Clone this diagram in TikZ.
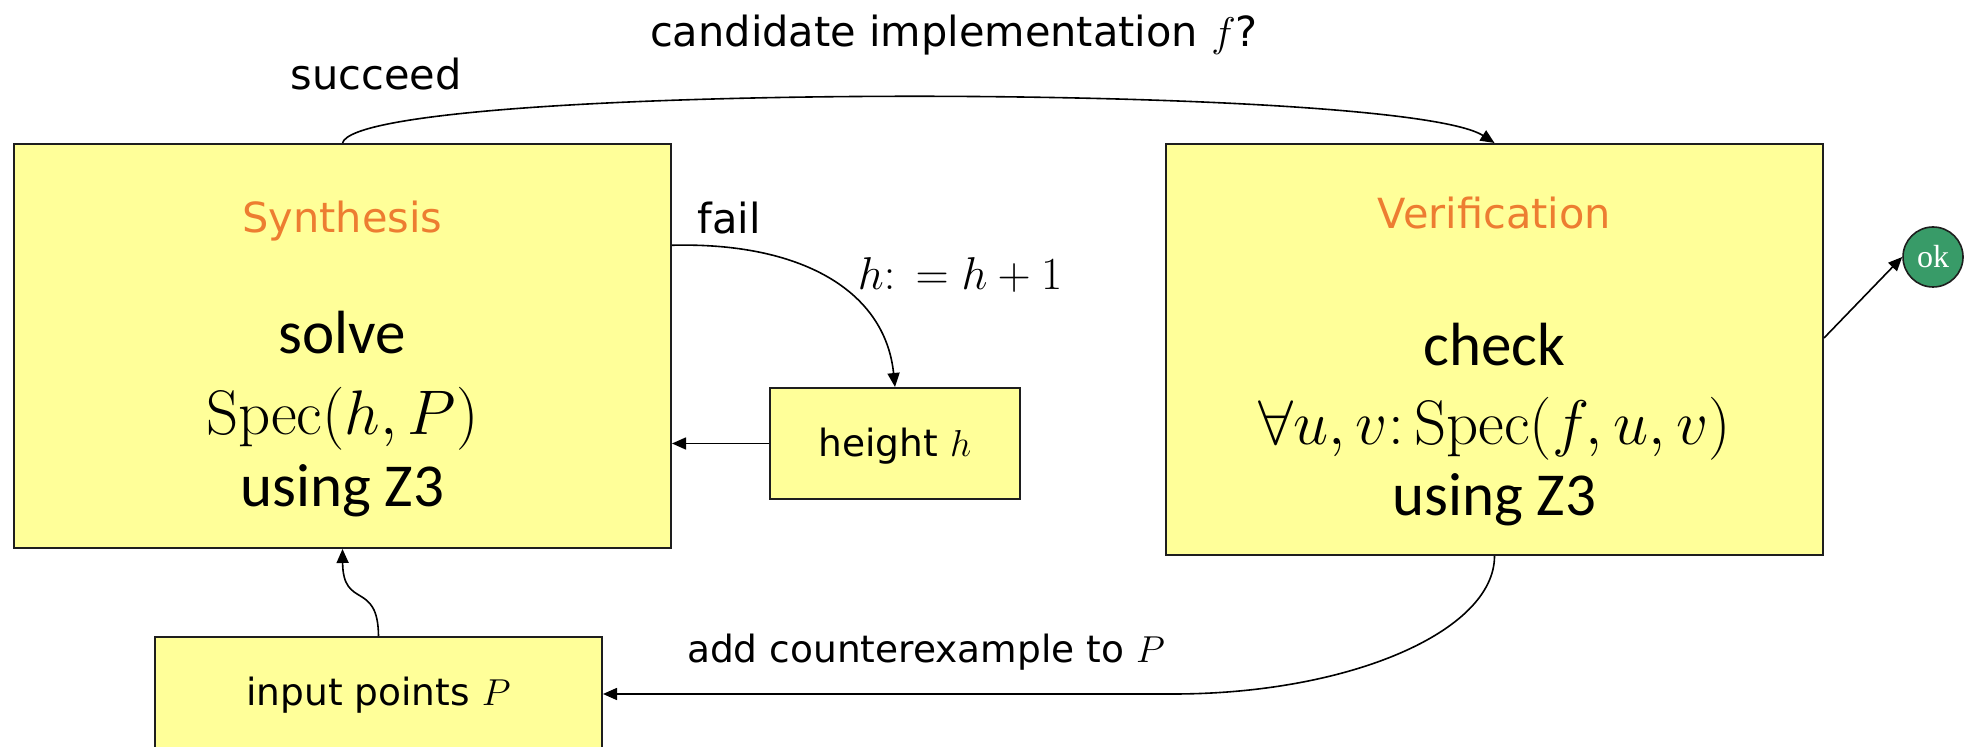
\RequirePackage{fix-cm}
\documentclass[tikz,border=0pt]{standalone}
\usepackage{fontspec}
\usetikzlibrary{arrows.meta}
\newfontfamily\labfont{DejaVu Sans}
\newfontfamily\bodyfont{Carlito}
\newfontfamily\okfont{Liberation Serif}
\definecolor{boxyellow}{RGB}{255,255,153}
\definecolor{titleorange}{RGB}{237,125,49}
\definecolor{okgreen}{RGB}{56,155,104}
\definecolor{edge}{RGB}{30,30,30}

\begin{document}
\begin{tikzpicture}[x=0.5pt,y=-0.5pt,
  box/.style={draw=edge,line width=1pt,fill=boxyellow,inner sep=0pt},
  conn/.style={draw=black,line width=0.8pt,-{Triangle[length=7pt,width=6pt]}},
  txt/.style={inner sep=0pt,anchor=base},
  biglab/.style={txt,font=\labfont\fontsize{20.75}{25}\selectfont},
  smalllab/.style={txt,font=\labfont\fontsize{18.75}{22}\selectfont},
  title/.style={biglab,text=titleorange},
  body/.style={txt,font=\bodyfont\fontsize{30.5}{36}\selectfont},
]
\useasboundingbox (0,0) rectangle (1964,747);
\clip (0,0) rectangle (1964,747);

% boxes
\node[box,minimum width=328.5pt,minimum height=202pt] (synth) at (342.5,346) {};
\node[box,minimum width=328.5pt,minimum height=205.5pt] (ver) at (1494.5,349.5) {};
\node[box,minimum width=125pt,minimum height=55.5pt] (hbox) at (895,443.5) {};
\node[box,minimum width=223.5pt,minimum height=57pt] (inp) at (378.5,694) {};
\node[circle,draw=edge,line width=0.8pt,fill=okgreen,minimum size=30pt,inner sep=0pt,
      text=white,font=\okfont\fontsize{16}{19}\selectfont] (ok) at (1933,257) {ok};

% box contents
\node[title] (synthT) at (342.5,233) {Synthesis};
\node[body] (synthA) at (342.5,354) {solve};
\node[body] (synthB) at (342.5,435) {\fontsize{31.5}{36}\selectfont$\mathrm{Spec}(h,P)$};
\node[body] (synthC) at (342.5,507) {using Z3};
\node[title] (verT) at (1494.5,229) {Verification};
\node[body] (verA) at (1494.5,366) {check};
\node[body] (verB) at (1494.5,445) {\fontsize{31.5}{36}\selectfont$\forall u,v\colon\mathrm{Spec}(f,u,v)$};
\node[body] (verC) at (1494.5,516) {using Z3};
\node[smalllab] (hT) at (895,457) {height $h$};
\node[smalllab] (inpT) at (378.5,705) {input points $P$};

% edge labels
\node[biglab] (succ) at (376,90) {succeed};
\node[biglab] (cand) at (954,47) {candidate implementation $f$?};
\node[biglab] (fail) at (729,234) {fail};
\node[biglab,font=\labfont\fontsize{23}{27}\selectfont] (inc) at (960,290) {$h{:}\,=h+1$};
\node[smalllab] (addcx) at (926,663) {add counterexample to $P$};

% connectors
\draw[conn] (synth.north) .. controls (360,82) and (1400,82) .. (ver.north);
\draw[conn] (synth.17.6) .. controls (800,242) and (885,290) .. (hbox.north);
\draw[conn] (hbox.west) -- (hbox.west -| synth.east);
\draw[conn] (inp.north) .. controls (378,580) and (343,610) .. (synth.south);
\coordinate (cxbend) at (1173,694);
\draw[conn] (ver.south) .. controls (1494.5,631) and (1350,694) .. (cxbend) -- (inp.east);
\draw[conn] (ver.2.5) -- (ok.west);
\end{tikzpicture}
\end{document}
